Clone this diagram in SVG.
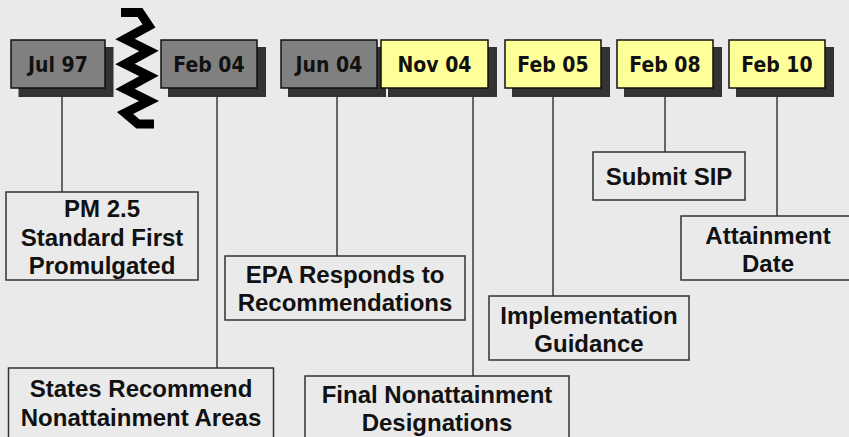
<svg xmlns="http://www.w3.org/2000/svg" width="849" height="437" viewBox="0 0 849 437">
<style>
.bg{fill:#EAEAEA}
.sh{fill:#333333}
.gray{fill:#808080;stroke:#111111;stroke-width:1.5}
.yel{fill:#FFFF99;stroke:#111111;stroke-width:1.5}
.dt{font-family:"DejaVu Sans Condensed","DejaVu Sans",sans-serif;font-weight:bold;font-size:21px;fill:#111111;text-anchor:middle}
.ev{fill:none;stroke:#333333;stroke-width:1.5}
.et{font-family:"Liberation Sans",Arial,sans-serif;font-weight:bold;font-size:24px;fill:#111111;text-anchor:middle}
.cn{stroke:#666666;stroke-width:2;fill:none}
</style>
<rect class="bg" x="0" y="0" width="849" height="437"/>
<g id="connectors">
<line class="cn" x1="62" y1="88" x2="62" y2="192"/>
<line class="cn" x1="217" y1="88" x2="217" y2="368"/>
<line class="cn" x1="337" y1="88" x2="337" y2="256"/>
<line class="cn" x1="473" y1="88" x2="473" y2="376"/>
<line class="cn" x1="553" y1="88" x2="553" y2="296"/>
<line class="cn" x1="665" y1="88" x2="665" y2="152"/>
<line class="cn" x1="777" y1="88" x2="777" y2="216"/>
</g>
<g id="d-jul97">
<rect class="sh" x="18.5" y="47" width="95" height="50"/>
<rect class="gray" x="11" y="40" width="94" height="48"/>
<text class="dt" x="58" y="72">Jul 97</text>
</g>
<g id="d-feb04">
<rect class="sh" x="168" y="47" width="98" height="50"/>
<rect class="gray" x="161" y="40" width="96" height="48"/>
<text class="dt" x="209" y="72">Feb 04</text>
</g>
<g id="d-jun04">
<rect class="sh" x="288" y="47" width="98" height="50"/>
<rect class="gray" x="281" y="40" width="96" height="48"/>
<text class="dt" x="329" y="72">Jun 04</text>
</g>
<g id="d-nov04">
<rect class="sh" x="388" y="47" width="109" height="50"/>
<rect class="yel" x="381" y="40" width="107" height="48"/>
<text class="dt" x="434.5" y="72">Nov 04</text>
</g>
<g id="d-feb05">
<rect class="sh" x="512" y="47" width="98" height="50"/>
<rect class="yel" x="505" y="40" width="96" height="48"/>
<text class="dt" x="553" y="72">Feb 05</text>
</g>
<g id="d-feb08">
<rect class="sh" x="624" y="47" width="98" height="50"/>
<rect class="yel" x="617" y="40" width="96" height="48"/>
<text class="dt" x="665" y="72">Feb 08</text>
</g>
<g id="d-feb10">
<rect class="sh" x="736" y="47" width="98" height="50"/>
<rect class="yel" x="729" y="40" width="96" height="48"/>
<text class="dt" x="777" y="72">Feb 10</text>
</g>
<g id="e-pm25">
<rect class="ev" x="6" y="192" width="192" height="88"/>
<text class="et" x="102" y="217">PM 2.5</text>
<text class="et" x="102" y="245.5">Standard First</text>
<text class="et" x="102" y="274">Promulgated</text>
</g>
<g id="e-states">
<rect class="ev" x="8.5" y="368" width="265" height="80"/>
<text class="et" x="141" y="397">States Recommend</text>
<text class="et" x="141" y="425.5">Nonattainment Areas</text>
</g>
<g id="e-epa">
<rect class="ev" x="225" y="256" width="240" height="64"/>
<text class="et" x="345" y="282.5">EPA Responds to</text>
<text class="et" x="345" y="310.5">Recommendations</text>
</g>
<g id="e-final">
<rect class="ev" x="305" y="376" width="264" height="80"/>
<text class="et" x="437" y="402.5">Final Nonattainment</text>
<text class="et" x="437" y="431">Designations</text>
</g>
<g id="e-impl">
<rect class="ev" x="489" y="296" width="200" height="64"/>
<text class="et" x="589" y="323.5">Implementation</text>
<text class="et" x="589" y="351.5">Guidance</text>
</g>
<g id="e-sip">
<rect class="ev" x="593" y="152" width="152" height="48"/>
<text class="et" x="669" y="184.5">Submit SIP</text>
</g>
<g id="e-attain">
<rect class="ev" x="681" y="216" width="180" height="64"/>
<text class="et" x="768" y="243.5">Attainment</text>
<text class="et" x="768" y="272">Date</text>
</g>
<g id="break">
<polyline points="121,12.5 140,12.5 149,26 125,39 149,51 125,64 149,76 125,89 149,101 125,113 138,124 154,124" fill="none" stroke="#000000" stroke-width="9" stroke-linejoin="miter" stroke-miterlimit="3"/>
</g>
</svg>
